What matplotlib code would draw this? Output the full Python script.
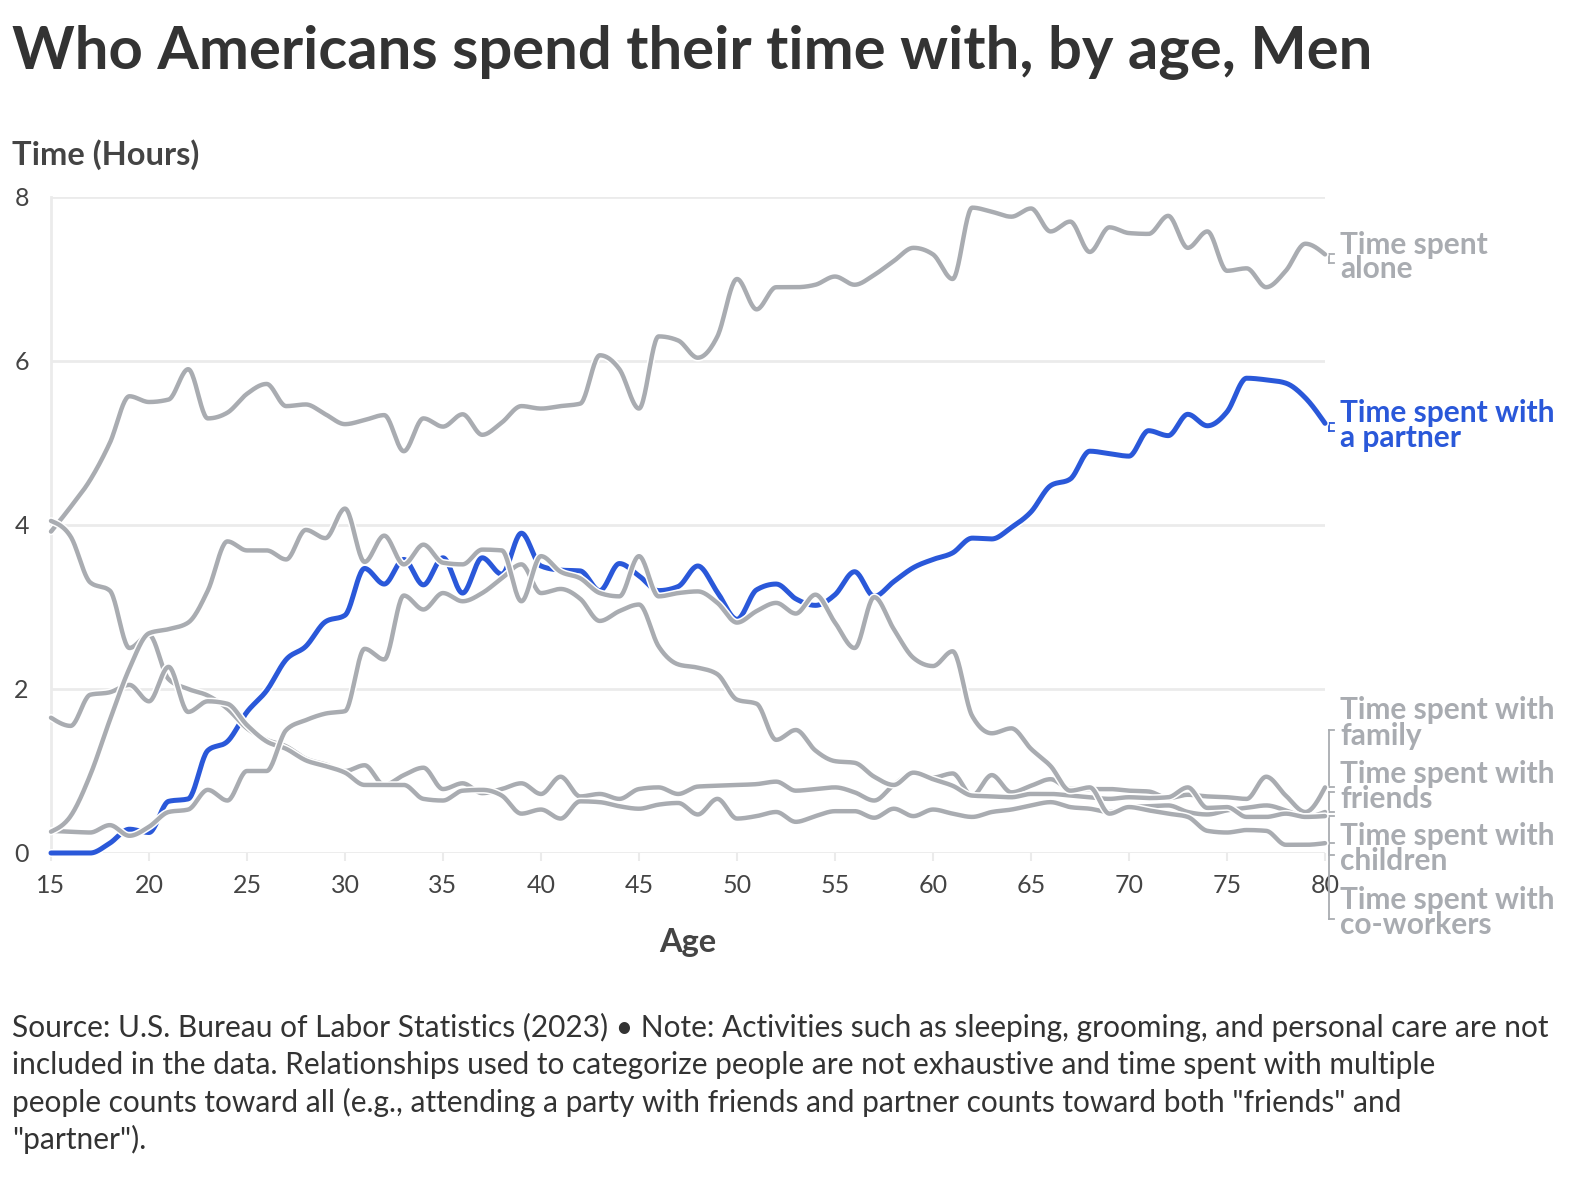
import numpy as np
import matplotlib
matplotlib.use("Agg")
import matplotlib.pyplot as plt
import matplotlib.patheffects as pe

# ---------------- data ----------------
ages = list(range(15, 81))

alone = [3.92, 4.22, 4.55, 5.0, 5.57, 5.5, 5.53, 5.9, 5.3, 5.37,
         5.6, 5.72, 5.45, 5.47, 5.35, 5.23, 5.28, 5.34, 4.9, 5.3,
         5.2, 5.35, 5.1, 5.25, 5.45, 5.42, 5.45, 5.48, 6.07, 5.9,
         5.42, 6.3, 6.25, 6.04, 6.3, 7.0, 6.63, 6.9, 6.9, 6.93,
         7.03, 6.93, 7.05, 7.22, 7.38, 7.3, 7.0, 7.87, 7.82, 7.76,
         7.86, 7.58, 7.7, 7.33, 7.63, 7.56, 7.55, 7.77, 7.38, 7.58,
         7.1, 7.13, 6.9, 7.1, 7.43, 7.3]

partner = [0.0, 0.0, 0.0, 0.12, 0.29, 0.25, 0.63, 0.66, 1.25, 1.36,
           1.72, 1.98, 2.36, 2.52, 2.82, 2.9, 3.47, 3.28, 3.58, 3.27,
           3.6, 3.17, 3.6, 3.4, 3.9, 3.5, 3.45, 3.44, 3.2, 3.53,
           3.38, 3.2, 3.25, 3.5, 3.18, 2.85, 3.21, 3.28, 3.1, 3.02,
           3.15, 3.43, 3.13, 3.31, 3.48, 3.58, 3.66, 3.84, 3.83, 3.97,
           4.16, 4.48, 4.56, 4.9, 4.87, 4.84, 5.15, 5.09, 5.35, 5.21,
           5.38, 5.79, 5.77, 5.73, 5.55, 5.24]

family = [4.05, 3.86, 3.3, 3.2, 2.5, 2.66, 2.12, 2.0, 1.92, 1.76,
          1.52, 1.38, 1.3, 1.15, 1.08, 1.0, 1.07, 0.83, 0.95, 1.04,
          0.78, 0.85, 0.73, 0.78, 0.85, 0.72, 0.93, 0.69, 0.72, 0.66,
          0.78, 0.8, 0.72, 0.81, 0.82, 0.83, 0.84, 0.87, 0.76, 0.78,
          0.8, 0.74, 0.64, 0.83, 0.97, 0.92, 0.97, 0.7, 0.95, 0.74,
          0.82, 0.9, 0.78, 0.78, 0.78, 0.76, 0.75, 0.67, 0.71, 0.69,
          0.68, 0.66, 0.93, 0.7, 0.5, 0.8]

friends = [1.65, 1.55, 1.93, 1.96, 2.05, 1.85, 2.27, 1.72, 1.85, 1.82,
           1.56, 1.36, 1.27, 1.13, 1.06, 0.98, 0.83, 0.83, 0.83, 0.66,
           0.64, 0.76, 0.77, 0.7, 0.48, 0.53, 0.42, 0.63, 0.62, 0.57,
           0.54, 0.59, 0.61, 0.47, 0.66, 0.42, 0.45, 0.5, 0.38, 0.45,
           0.51, 0.51, 0.43, 0.54, 0.45, 0.53, 0.48, 0.44, 0.5, 0.53,
           0.58, 0.62, 0.56, 0.54, 0.5, 0.56, 0.57, 0.58, 0.5, 0.47,
           0.52, 0.55, 0.58, 0.52, 0.44, 0.5]

children = [0.27, 0.26, 0.25, 0.34, 0.21, 0.32, 0.5, 0.53, 0.77, 0.64,
            1.0, 1.0, 1.5, 1.62, 1.7, 1.73, 2.49, 2.36, 3.14, 2.97,
            3.17, 3.07, 3.17, 3.35, 3.52, 3.17, 3.22, 3.1, 2.83, 2.95,
            3.03, 2.52, 2.3, 2.26, 2.18, 1.87, 1.82, 1.38, 1.5, 1.25,
            1.12, 1.1, 0.93, 0.83, 0.98, 0.9, 0.82, 0.7, 0.69, 0.68,
            0.72, 0.72, 0.7, 0.68, 0.66, 0.68, 0.67, 0.68, 0.8, 0.55,
            0.56, 0.44, 0.44, 0.48, 0.44, 0.45]

coworkers = [0.26, 0.45, 0.95, 1.62, 2.25, 2.68, 2.73, 2.81, 3.2, 3.8,
             3.69, 3.69, 3.58, 3.94, 3.84, 4.2, 3.55, 3.87, 3.52, 3.76,
             3.54, 3.52, 3.7, 3.69, 3.07, 3.62, 3.43, 3.35, 3.17, 3.13,
             3.62, 3.13, 3.17, 3.19, 3.05, 2.81, 2.95, 3.05, 2.92, 3.15,
             2.81, 2.5, 3.12, 2.73, 2.38, 2.28, 2.46, 1.67, 1.46, 1.52,
             1.27, 1.06, 0.76, 0.8, 0.48, 0.56, 0.52, 0.48, 0.44, 0.27,
             0.25, 0.28, 0.27, 0.1, 0.1, 0.12]

series_names = ["alone", "partner", "family", "friends", "children", "coworkers"]
series_values = [alone, partner, family, friends, children, coworkers]
series_labels = [["Time spent", "alone"], ["Time spent with", "a partner"],
                 ["Time spent with", "family"], ["Time spent with", "friends"],
                 ["Time spent with", "children"], ["Time spent with", "co-workers"]]

x_ticks = [15, 20, 25, 30, 35, 40, 45, 50, 55, 60, 65, 70, 75, 80]
y_ticks = [0, 2, 4, 6, 8]

title = "Who Americans spend their time with, by age, Men"
y_title = "Time (Hours)"
x_title = "Age"
note_lines = ['Source: U.S. Bureau of Labor Statistics (2023) \u2022 Note: Activities such as sleeping, grooming, and personal care are not',
              'included in the data. Relationships used to categorize people are not exhaustive and time spent with multiple',
              'people counts toward all (e.g., attending a party with friends and partner counts toward both "friends" and',
              '"partner").']

# ---------------- helpers ----------------
def monotone(xs, ys, n=24):
    x = np.asarray(xs, float)
    y = np.asarray(ys, float)
    h = np.diff(x)
    s = np.diff(y) / h
    t = np.zeros_like(y)
    for i in range(1, len(x) - 1):
        p = (s[i - 1] * h[i] + s[i] * h[i - 1]) / (h[i - 1] + h[i])
        t[i] = (np.sign(s[i - 1]) + np.sign(s[i])) * min(abs(s[i - 1]), abs(s[i]), 0.5 * abs(p))
    t[0] = (3 * s[0] - t[1]) / 2
    t[-1] = (3 * s[-1] - t[-2]) / 2
    xo, yo = [], []
    for i in range(len(x) - 1):
        u = np.linspace(0, 1, n, endpoint=False)
        h00 = 2 * u**3 - 3 * u**2 + 1
        h10 = u**3 - 2 * u**2 + u
        h01 = -2 * u**3 + 3 * u**2
        h11 = u**3 - u**2
        xo.append(x[i] + u * h[i])
        yo.append(h00 * y[i] + h10 * h[i] * t[i] + h01 * y[i + 1] + h11 * h[i] * t[i + 1])
    xo.append([x[-1]])
    yo.append([y[-1]])
    return np.concatenate(xo), np.concatenate(yo)

# ---------------- figure ----------------
W, H = 1588, 1188
fig = plt.figure(figsize=(W / 100, H / 100), dpi=100)
FONT = ["Lato", "DejaVu Sans"]
plt.rcParams['font.family'] = FONT

L, R, T, B = 51, 1325, 197, 853
ax = fig.add_axes([L / W, 1 - B / H, (R - L) / W, (B - T) / H])
ax.set_xlim(15, 80)
ax.set_ylim(0, 8)
for sp in ax.spines.values():
    sp.set_visible(False)

GRID = "#ebebeb"
for yv in y_ticks:
    ax.axhline(yv, color=GRID, lw=2, zorder=0)
ax.plot([15, 15], [0, 8], color=GRID, lw=2, zorder=0, clip_on=False)

ax.set_xticks(x_ticks)
ax.set_xticklabels([str(v) for v in x_ticks])
ax.set_yticks(y_ticks)
ax.set_yticklabels([str(v) for v in y_ticks])
ax.tick_params(axis='x', length=6, width=1.5, color=GRID, pad=9,
               labelsize=18, labelcolor="#444444")
ax.tick_params(axis='y', length=0, pad=16, labelsize=18, labelcolor="#444444")

GRAY = "#a9acb1"
BLUE = "#2a58d9"
colors = {"alone": GRAY, "partner": BLUE, "family": GRAY, "friends": GRAY,
          "children": GRAY, "coworkers": GRAY}

for name, vals in zip(series_names, series_values):
    xs, ys = monotone(ages, vals)
    lw = 3.6 if name == "partner" else 3.2
    ax.plot(xs, ys, color=colors[name], lw=lw, solid_capstyle='round',
            solid_joinstyle='round', clip_on=False, zorder=3,
            path_effects=[pe.Stroke(linewidth=lw + 2.2, foreground='white'), pe.Normal()])

# ---------------- right labels ----------------
px_per_year = (R - L) / 65.0
px_per_hour = (B - T) / 8.0
def px2y(py):
    return (B - py) / px_per_hour
def px2x(px):
    return 15 + (px - L) / px_per_year

first_line_px = [243, 411, 708, 771, 834, 898]
second_line_px = [267, 436, 733, 796, 859, 923]
bracket_px = [263, 431, 730, 792, 855, 919]
xb = px2x(1328.5)
xt = px2x(1333.5)
for name, vals, lab, y1, y2, yb in zip(series_names, series_values, series_labels,
                                       first_line_px, second_line_px, bracket_px):
    c = colors[name]
    for txt, py in zip(lab, (y1, y2)):
        ax.text(px2x(1340), px2y(py), txt, color=c, fontsize=21.5, fontweight='bold',
                ha='left', va='center_baseline', clip_on=False)
    yend = vals[-1]
    ylab = px2y(yb)
    ax.plot([px2x(R), xt], [yend, yend], color=c, lw=1.3, clip_on=False, zorder=2)
    ax.plot([xb, xb], [yend, ylab], color=c, lw=1.3, clip_on=False, zorder=2)
    ax.plot([xb, xt], [ylab, ylab], color=c, lw=1.3, clip_on=False, zorder=2)

# ---------------- texts ----------------
fig.text(12 / W, 1 - 47 / H, title, fontsize=43, fontweight='bold', color="#333333",
         ha='left', va='center_baseline')
fig.text(12 / W, 1 - 152 / H, y_title, fontsize=23.5, fontweight='bold', color="#444444",
         ha='left', va='center_baseline')
fig.text(688 / W, 1 - 940 / H, x_title, fontsize=23.5, fontweight='bold', color="#444444",
         ha='center', va='center_baseline')
for i, line in enumerate(note_lines):
    fig.text(12 / W, 1 - (1025 + 37.3 * i) / H, line, fontsize=21.5, color="#333333",
             ha='left', va='center_baseline')

fig.savefig("out.png", dpi=100, facecolor="white")
